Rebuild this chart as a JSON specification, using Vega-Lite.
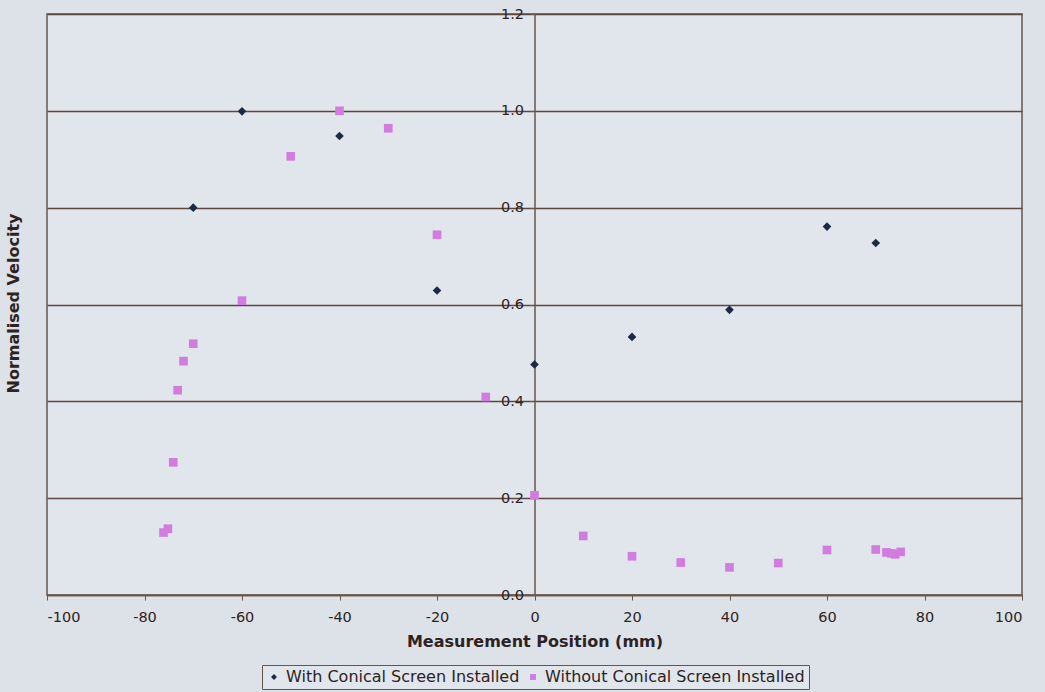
{
  "$schema": "https://vega.github.io/schema/vega-lite/v6.json",
  "width": 975,
  "height": 581,
  "autosize": {"type": "none"},
  "padding": {"left": 47, "top": 14, "right": 23, "bottom": 97},
  "background": "#dde2e8",
  "config": {
    "font": "DejaVu Sans",
    "view": {"fill": "#e1e6ec", "stroke": "#6a5448", "strokeWidth": 1.5}
  },
  "data": {
    "values": [
      {"pos": -70, "v": 0.8, "series": "With Conical Screen Installed"},
      {"pos": -60, "v": 0.999, "series": "With Conical Screen Installed"},
      {"pos": -40, "v": 0.948, "series": "With Conical Screen Installed"},
      {"pos": -20, "v": 0.629, "series": "With Conical Screen Installed"},
      {"pos": 0, "v": 0.476, "series": "With Conical Screen Installed"},
      {"pos": 20, "v": 0.533, "series": "With Conical Screen Installed"},
      {"pos": 40, "v": 0.589, "series": "With Conical Screen Installed"},
      {"pos": 60, "v": 0.761, "series": "With Conical Screen Installed"},
      {"pos": 70, "v": 0.727, "series": "With Conical Screen Installed"},
      {"pos": -76.1, "v": 0.129, "series": "Without Conical Screen Installed"},
      {"pos": -75.2, "v": 0.137, "series": "Without Conical Screen Installed"},
      {"pos": -74.1, "v": 0.274, "series": "Without Conical Screen Installed"},
      {"pos": -73.2, "v": 0.423, "series": "Without Conical Screen Installed"},
      {"pos": -72.0, "v": 0.483, "series": "Without Conical Screen Installed"},
      {"pos": -70, "v": 0.519, "series": "Without Conical Screen Installed"},
      {"pos": -60, "v": 0.608, "series": "Without Conical Screen Installed"},
      {"pos": -50, "v": 0.906, "series": "Without Conical Screen Installed"},
      {"pos": -40, "v": 1.0, "series": "Without Conical Screen Installed"},
      {"pos": -30, "v": 0.964, "series": "Without Conical Screen Installed"},
      {"pos": -20, "v": 0.744, "series": "Without Conical Screen Installed"},
      {"pos": -10, "v": 0.409, "series": "Without Conical Screen Installed"},
      {"pos": 0, "v": 0.206, "series": "Without Conical Screen Installed"},
      {"pos": 10, "v": 0.122, "series": "Without Conical Screen Installed"},
      {"pos": 20, "v": 0.08, "series": "Without Conical Screen Installed"},
      {"pos": 30, "v": 0.067, "series": "Without Conical Screen Installed"},
      {"pos": 40, "v": 0.057, "series": "Without Conical Screen Installed"},
      {"pos": 50, "v": 0.066, "series": "Without Conical Screen Installed"},
      {"pos": 60, "v": 0.093, "series": "Without Conical Screen Installed"},
      {"pos": 70, "v": 0.094, "series": "Without Conical Screen Installed"},
      {"pos": 72.2, "v": 0.088, "series": "Without Conical Screen Installed"},
      {"pos": 73.2, "v": 0.086, "series": "Without Conical Screen Installed"},
      {"pos": 74, "v": 0.084, "series": "Without Conical Screen Installed"},
      {"pos": 75.1, "v": 0.089, "series": "Without Conical Screen Installed"}
    ]
  },
  "mark": {"type": "point", "filled": true, "opacity": 1, "size": 75},
  "encoding": {
    "x": {
      "field": "pos",
      "type": "quantitative",
      "scale": {"domain": [-100, 100], "nice": false, "zero": false},
      "axis": {
        "title": "Measurement Position (mm)",
        "values": [-100, -80, -60, -40, -20, 0, 20, 40, 60, 80, 100],
        "labelExpr": "toString(datum.value)",
        "grid": false,
        "domainColor": "#6a5448",
        "domainWidth": 1.5,
        "tickColor": "#6a5448",
        "tickSize": 5,
        "labelPadding": 10,
        "labelFontSize": 14.5,
        "labelColor": "#2e2222",
        "titleFontSize": 16,
        "titleFontWeight": "bold",
        "titleColor": "#2e2222",
        "titlePadding": 10
      }
    },
    "y": {
      "field": "v",
      "type": "quantitative",
      "scale": {"domain": [0, 1.2], "nice": false},
      "axis": {
        "title": "Normalised Velocity",
        "values": [0, 0.2, 0.4, 0.6, 0.8, 1.0, 1.2],
        "format": ".1f",
        "offset": -487.5,
        "grid": true,
        "gridColor": "#5e463c",
        "gridWidth": 1.5,
        "domainColor": "#6a5448",
        "domainWidth": 1.5,
        "tickColor": "#6a5448",
        "tickSize": 5,
        "labelPadding": 6,
        "labelFontSize": 14.5,
        "labelColor": "#2e2222",
        "titleFontSize": 16,
        "titleFontWeight": "bold",
        "titleColor": "#2e2222",
        "titleX": -521,
        "titleY": 289,
        "titleAlign": "center",
        "titleBaseline": "middle"
      }
    },
    "color": {
      "field": "series",
      "type": "nominal",
      "scale": {
        "domain": ["With Conical Screen Installed", "Without Conical Screen Installed"],
        "range": ["#1c2a48", "#d27ce0"]
      },
      "legend": {
        "title": null,
        "orient": "none",
        "direction": "horizontal",
        "legendX": 215,
        "legendY": 651,
        "strokeColor": "#6a5448",
        "fillColor": "#e1e6ec",
        "padding": 4,
        "labelFontSize": 16,
        "labelLimit": 0,
        "labelColor": "#2e2222",
        "symbolSize": 35,
        "symbolOffset": 0,
        "columnPadding": 5,
        "labelOffset": 4
      }
    },
    "shape": {
      "field": "series",
      "type": "nominal",
      "scale": {
        "domain": ["With Conical Screen Installed", "Without Conical Screen Installed"],
        "range": ["diamond", "square"]
      },
      "legend": null
    }
  }
}
